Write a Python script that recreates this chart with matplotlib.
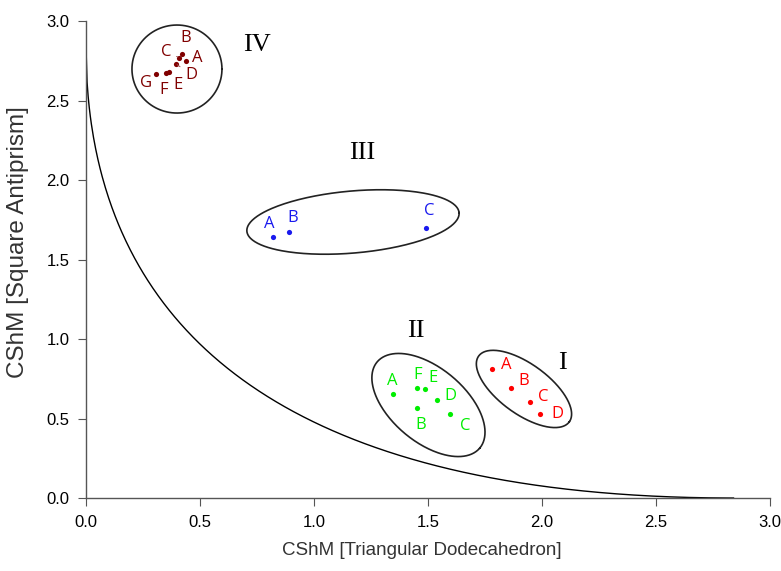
import numpy as np
import matplotlib.pyplot as plt

# CShM values
group_I_x = [1.779, 1.863, 1.947, 1.991]
group_I_y = [0.811, 0.690, 0.602, 0.530]
group_I_lab = ["A", "B", "C", "D"]

group_II_x = [1.345, 1.453, 1.598, 1.538, 1.486, 1.453]
group_II_y = [0.654, 0.566, 0.530, 0.614, 0.684, 0.690]
group_II_lab = ["A", "B", "C", "D", "E", "F"]

group_III_x = [0.821, 0.890, 1.490]
group_III_y = [1.640, 1.675, 1.696]
group_III_lab = ["A", "B", "C"]

group_IV_x = [0.440, 0.419, 0.408, 0.395, 0.364, 0.350, 0.308]
group_IV_y = [2.748, 2.792, 2.770, 2.731, 2.677, 2.671, 2.665]
group_IV_lab = ["A", "B", "C", "D", "E", "F", "G"]

# minimal distortion path end value
s_path = 2.84

ticks = [0.0, 0.5, 1.0, 1.5, 2.0, 2.5, 3.0]

fig = plt.figure(figsize=(7.81, 5.71), dpi=100)
ax_pos = [0.1101, 0.1278, 0.8758, 0.8354]
ax = fig.add_axes(ax_pos)
ax.set_xlim(0, 3)
ax.set_ylim(0, 3)

# pixels per data unit, used for ellipses
SX = ax_pos[2] * 781 / 3
SY = ax_pos[3] * 571 / 3

# minimal distortion path
theta = np.arcsin(np.sqrt(s_path) / 10)
xs = np.linspace(0, s_path, 600)
ys = (10 * np.sin(theta - np.arcsin(np.sqrt(xs) / 10))) ** 2
ax.plot(xs, ys, color="black", lw=1.0)


def ellipse(cx, cy, a, b, ang):
    # a, b in pixels, ang in degrees (counterclockwise on screen)
    t = np.linspace(0, 2 * np.pi, 300)
    phi = np.radians(ang)
    px = a * np.cos(t) * np.cos(phi) - b * np.sin(t) * np.sin(phi)
    py = a * np.cos(t) * np.sin(phi) + b * np.sin(t) * np.cos(phi)
    ax.plot(cx + px / SX, cy + py / SY, color="#222222", lw=1.2)


ellipse(0.399, 2.698, 45, 44, 0)
ellipse(1.171, 1.736, 106.5, 31, 5)
ellipse(1.502, 0.585, 67, 37, -40)
ellipse(1.921, 0.686, 56, 25, -36)

# label offsets in pixels (dx right, dy up)
off_I = [(15, 4), (13, 7), (13, 5), (17, 0)]
off_II = [(0, 13), (3, -17), (15, -12), (14, 4), (8, 11), (0, 13)]
off_III = [(-4, 13), (4, 14), (4, 17)]
off_IV = [(11, 3), (4, 16), (-13, 6), (15, -11), (9, -13), (-2, -17), (-10, -9)]

groups = [
    (group_I_x, group_I_y, group_I_lab, off_I, "#ff0000"),
    (group_II_x, group_II_y, group_II_lab, off_II, "#00ee00"),
    (group_III_x, group_III_y, group_III_lab, off_III, "#1a1aee"),
    (group_IV_x, group_IV_y, group_IV_lab, off_IV, "#800000"),
]

for gx, gy, labs, offs, col in groups:
    ax.scatter(gx, gy, s=14, color=col, zorder=3, linewidths=0)
    for x, y, lab, (dx, dy) in zip(gx, gy, labs, offs):
        arrow = None
        if col == "#800000" and lab in ("C", "D"):
            arrow = dict(arrowstyle="-", color="#a05050", lw=0.7, shrinkA=2, shrinkB=1)
        ax.annotate(lab, (x, y), xytext=(dx * 0.72, dy * 0.72), textcoords="offset points",
                    ha="center", va="center", color=col, fontsize=12,
                    family="Open Sans", arrowprops=arrow)

# roman numerals
roman = ["I", "II", "III", "IV"]
roman_x = [2.092, 1.447, 1.211, 0.750]
roman_y = [0.849, 1.050, 2.170, 2.849]
for lab, x, y in zip(roman, roman_x, roman_y):
    ax.text(x, y, lab, fontsize=19, family="Liberation Serif", ha="center", va="center")

for side in ["top", "right"]:
    ax.spines[side].set_visible(False)
for side in ["left", "bottom"]:
    ax.spines[side].set_color("#555555")
    ax.spines[side].set_linewidth(1.0)

ax.set_xticks(ticks)
ax.set_yticks(ticks)
ax.set_xticklabels([f"{t:.1f}" for t in ticks], family="Liberation Sans", fontsize=12)
ax.set_yticklabels([f"{t:.1f}" for t in ticks], family="Liberation Sans", fontsize=12)
ax.tick_params(direction="out", length=6, color="#555555", pad=6)

ax.set_xlabel("CShM [Triangular Dodecahedron]", family="Liberation Sans", fontsize=13.5,
              color="#333333")
ax.set_ylabel("CShM [Square Antiprism]", family="Liberation Sans", fontsize=17.5,
              color="#333333")
ax.xaxis.set_label_coords(0.491, -0.092)
ax.yaxis.set_label_coords(-0.083, 0.537)

fig.savefig("out.png", dpi=100)
